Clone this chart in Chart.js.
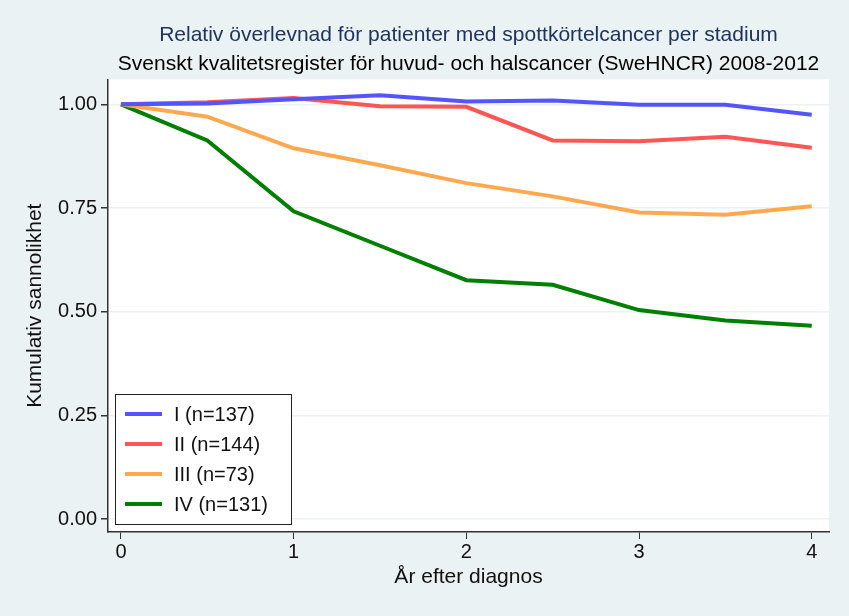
<!DOCTYPE html>
<html>
<head>
<meta charset="utf-8">
<script src="https://cdn.jsdelivr.net/npm/chart.js@4"></script>
<style>
    html, body { margin: 0; padding: 0; background: #eaf2f3; }
    #wrap { width: 849px; height: 616px; }
</style>
</head>
<body>
<div id="wrap"><canvas id="chart" width="849" height="616"></canvas></div>
<script>
// years after diagnosis
const years = [0, 0.5, 1, 1.5, 2, 2.5, 3, 3.5, 4];
const stageI = [1.0, 1.002, 1.012, 1.022, 1.007, 1.009, 0.999, 0.999, 0.975];
const stageII = [1.0, 1.005, 1.015, 0.995, 0.994, 0.913, 0.911, 0.922, 0.895];
const stageIII = [1.0, 0.970, 0.894, 0.853, 0.810, 0.778, 0.739, 0.734, 0.754];
const stageIV = [1.0, 0.913, 0.742, 0.659, 0.576, 0.565, 0.504, 0.479, 0.466];
const seriesLabels = ['I (n=137)', 'II (n=144)', 'III (n=73)', 'IV (n=131)'];
const xTicks = [0, 1, 2, 3, 4];
const yTicks = [0, 0.25, 0.5, 0.75, 1];

const font = "'Liberation Sans', Arial, sans-serif";
const colors = ['#5555ff', '#ff5555', '#ffa850', '#007f00'];

function toPoints(vals) {
    return years.map((x, i) => ({ x: x, y: vals[i] }));
}

// white plot region on the bluish background
const plotBg = {
    id: 'plotBg',
    beforeDraw(chart) {
        const { ctx, chartArea: a } = chart;
        ctx.save();
        ctx.fillStyle = '#eaf2f3';
        ctx.fillRect(0, 0, chart.width, chart.height);
        ctx.fillStyle = '#ffffff';
        ctx.fillRect(a.left, a.top, a.right - a.left, a.bottom - a.top);
        ctx.restore();
    }
};

// legend box inside the plot, bottom left
const innerLegend = {
    id: 'innerLegend',
    afterDraw(chart) {
        const { ctx, chartArea: a } = chart;
        const sets = chart.data.datasets;
        const x0 = a.left + 7, w = 176, rowH = 30;
        const h = sets.length * rowH + 10;
        const y0 = a.bottom - 8 - h;
        ctx.save();
        ctx.fillStyle = '#ffffff';
        ctx.fillRect(x0, y0, w, h);
        ctx.strokeStyle = '#222';
        ctx.lineWidth = 1;
        ctx.strokeRect(x0 + 0.5, y0 + 0.5, w, h);
        ctx.font = '20px ' + font;
        ctx.textBaseline = 'middle';
        sets.forEach((ds, i) => {
            const cy = y0 + 20 + i * rowH;
            ctx.strokeStyle = ds.borderColor;
            ctx.lineWidth = 4;
            ctx.beginPath();
            ctx.moveTo(x0 + 10, cy);
            ctx.lineTo(x0 + 47, cy);
            ctx.stroke();
            ctx.fillStyle = '#111';
            ctx.fillText(ds.label, x0 + 59, cy + 1);
        });
        ctx.restore();
    }
};

const datasets = [stageI, stageII, stageIII, stageIV].map((vals, i) => ({
    label: seriesLabels[i],
    data: toPoints(vals),
    borderColor: colors[i],
    borderWidth: 4,
    pointRadius: 0,
    tension: 0,
    fill: false
}));

new Chart(document.getElementById('chart'), {
    type: 'line',
    data: { datasets: datasets },
    options: {
        responsive: false,
        animation: false,
        layout: { padding: { left: 0, right: 20, top: 0, bottom: 24 } },
        plugins: {
            legend: { display: false },
            tooltip: { enabled: false },
            title: {
                display: true,
                text: 'Relativ överlevnad för patienter med spottkörtelcancer per stadium',
                color: '#1f3360',
                fullSize: false,
                font: { family: font, size: 21, weight: 'normal' },
                padding: { top: 23, bottom: 2 }
            },
            subtitle: {
                display: true,
                text: 'Svenskt kvalitetsregister för huvud- och halscancer (SweHNCR) 2008-2012',
                color: '#000',
                fullSize: false,
                font: { family: font, size: 21 },
                padding: { top: 1, bottom: 3 }
            }
        },
        scales: {
            x: {
                type: 'linear',
                min: -0.075,
                max: 4.1,
                afterBuildTicks: s => { s.ticks = xTicks.map(v => ({ value: v })); },
                afterFit: s => { s.height = 60; },
                ticks: { color: '#111', font: { family: font, size: 20 }, padding: 1,
                         callback: v => String(v) },
                grid: { drawOnChartArea: false, drawTicks: true, tickLength: 7, tickColor: '#333' },
                border: { display: true, color: '#333', width: 1.5 },
                title: { display: true, text: 'År efter diagnos', color: '#111',
                         font: { family: font, size: 21 }, padding: { top: 0, bottom: 2 } }
            },
            y: {
                min: -0.031,
                max: 1.06,
                afterBuildTicks: s => { s.ticks = yTicks.map(v => ({ value: v })); },
                afterFit: s => { s.width = 108; },
                ticks: { color: '#111', font: { family: font, size: 20 }, padding: 4,
                         callback: v => v.toFixed(2) },
                grid: { color: '#eaf2f3', lineWidth: 1.5, drawTicks: true, tickLength: 7, tickColor: '#333' },
                border: { display: true, color: '#333', width: 1.5 },
                title: { display: true, text: 'Kumulativ sannolikhet', color: '#111',
                         font: { family: font, size: 21 }, padding: { top: 23, bottom: 0 } }
            }
        }
    },
    plugins: [plotBg, innerLegend]
});
</script>
</body>
</html>
